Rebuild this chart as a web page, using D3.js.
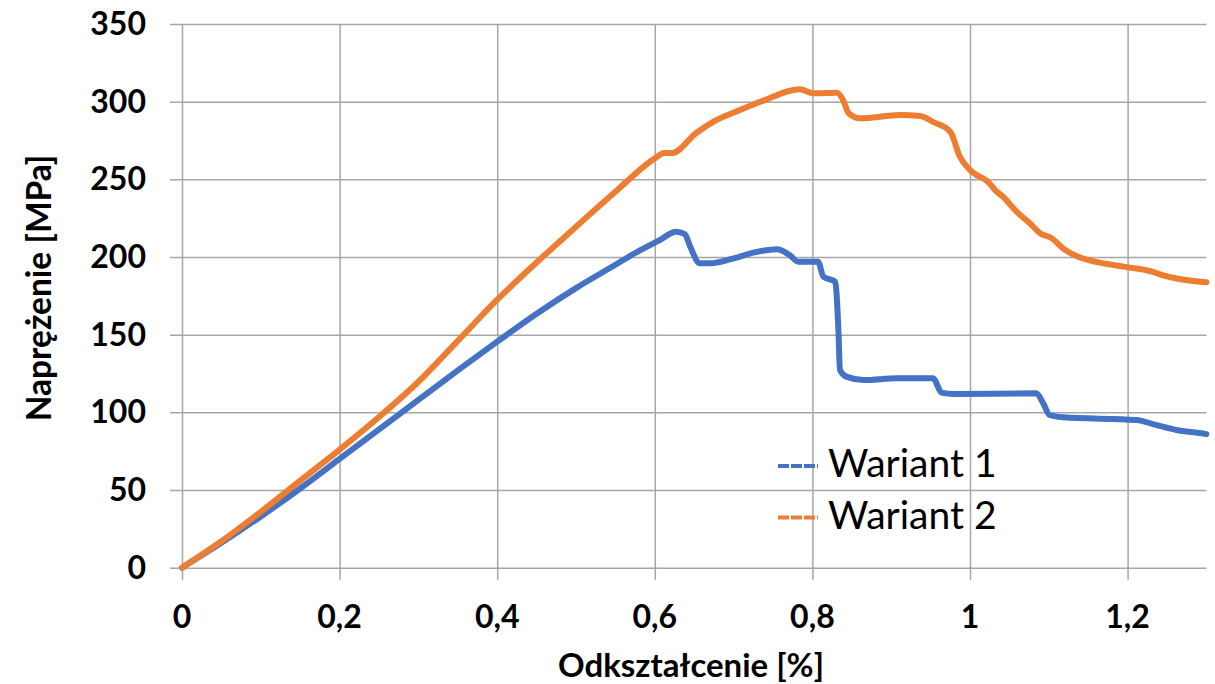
<!DOCTYPE html>
<html>
<head>
<meta charset="utf-8">
<script src="https://cdn.jsdelivr.net/npm/d3@7"></script>
<style>
  body { margin: 0; background: #fff; }
  svg { display: block; font-family: Lato, "Open Sans", sans-serif; }
</style>
</head>
<body>
<div id="chart"></div>
<script>
// Wariant 1 (blue)
const strain1 = [0, 0.05, 0.1, 0.15, 0.2, 0.25, 0.3, 0.35, 0.4, 0.45, 0.5, 0.55, 0.58, 0.605, 0.627, 0.638,
    0.645, 0.657, 0.670, 0.699, 0.725, 0.755, 0.771, 0.782, 0.807, 0.814, 0.829, 0.833, 0.835, 0.843,
    0.865, 0.907, 0.953, 0.964, 0.979, 1.084, 1.093, 1.101, 1.118, 1.211, 1.236, 1.262, 1.294, 1.3];
const stress1 = [0, 16, 33, 51, 70, 89, 108, 127, 145.5, 163.5, 180, 195, 204, 210.5, 216.3, 214.8,
    206.6, 196, 196, 199, 202.8, 205, 201.3, 197, 197, 187.3, 184.1, 153, 127.3, 123,
    120.8, 121.9, 121.9, 112.7, 111.8, 112.3, 105.8, 98.3, 96.8, 95.1, 91.9, 88.6, 86.5, 86];

// Wariant 2 (orange)
const strain2 = [0, 0.05, 0.1, 0.15, 0.2, 0.25, 0.3, 0.35, 0.4, 0.45, 0.5, 0.55, 0.6, 0.612, 0.622,
    0.653, 0.674, 0.708, 0.742, 0.767, 0.784, 0.801, 0.831, 0.839, 0.846, 0.860, 0.911, 0.937, 0.953,
    0.975, 0.987, 1.0, 1.025, 1.032, 1.042, 1.059, 1.076, 1.089, 1.104, 1.118, 1.135, 1.195, 1.231,
    1.244, 1.293, 1.3];
const stress2 = [0, 17, 36, 56, 76, 97, 119.7, 146, 172.5, 196.5, 219.5, 242, 263.5, 267, 267,
    280, 287, 294.6, 301.5, 306.4, 308, 305.4, 305.8, 301, 292.5, 289.3, 291.4, 290.8, 287,
    280.7, 264.7, 256, 247.4, 243, 238.8, 229.2, 221.7, 215.3, 212, 205.6, 200.6, 193.8, 190.6,
    188.4, 184.1, 183.8];

const seriesNames = ["Wariant 1", "Wariant 2"];
const xTicks = [0, 0.2, 0.4, 0.6, 0.8, 1, 1.2];
const yTicks = [0, 50, 100, 150, 200, 250, 300, 350];
const xTitle = "Odkształcenie [%]";
const yTitle = "Naprężenie [MPa]";

const width = 1215;
const height = 684;
const colors = ["#4472c4", "#ed7d31"];
const gridColor = "#a6a6a6";

const xScale = d3.scaleLinear().domain([0, 1.3]).range([182, 1206.4]);
const yScale = d3.scaleLinear().domain([0, 350]).range([567.7, 24]);

const svg = d3.select("#chart")
    .append("svg")
    .attr("width", width)
    .attr("height", height);

// Horizontal gridlines (with outer tick on the left)
const yAxis = d3.axisLeft(yScale)
    .tickValues(yTicks)
    .tickSize(-(xScale(1.3) - xScale(0)))
    .tickFormat("");
svg.append("g")
    .attr("transform", `translate(${xScale(0)},0)`)
    .call(yAxis)
    .call(g => g.select(".domain").remove())
    .call(g => g.selectAll(".tick line")
        .attr("x1", -12)
        .attr("stroke", gridColor)
        .attr("stroke-width", 1.5));

// Vertical gridlines (with outer tick below)
const xAxis = d3.axisBottom(xScale)
    .tickValues(xTicks)
    .tickSize(-(yScale(0) - yScale(350)))
    .tickFormat("");
svg.append("g")
    .attr("transform", `translate(0,${yScale(0)})`)
    .call(xAxis)
    .call(g => g.select(".domain").remove())
    .call(g => g.selectAll(".tick line")
        .attr("y1", 12)
        .attr("stroke", gridColor)
        .attr("stroke-width", 1.5));

// Tick labels
svg.append("g")
    .selectAll("text")
    .data(yTicks)
    .enter()
    .append("text")
    .attr("x", 146)
    .attr("y", d => yScale(d) + 11)
    .attr("text-anchor", "end")
    .attr("font-size", 32)
    .attr("font-weight", "bold")
    .text(d => d);

svg.append("g")
    .selectAll("text")
    .data(xTicks)
    .enter()
    .append("text")
    .attr("x", d => xScale(d))
    .attr("y", 628)
    .attr("text-anchor", "middle")
    .attr("font-size", 32)
    .attr("font-weight", "bold")
    .text(d => String(d).replace(".", ","));

// Axis titles
svg.append("text")
    .attr("x", 691)
    .attr("y", 677)
    .attr("text-anchor", "middle")
    .attr("font-size", 33)
    .attr("font-weight", "bold")
    .text(xTitle);

svg.append("text")
    .attr("transform", "translate(51,288) rotate(-90)")
    .attr("text-anchor", "middle")
    .attr("font-size", 33.5)
    .attr("font-weight", "bold")
    .text(yTitle);

// Data lines
const line = d3.line()
    .curve(d3.curveMonotoneX)
    .x(d => xScale(d[0]))
    .y(d => yScale(d[1]));

const series = [
    d3.zip(strain1, stress1),
    d3.zip(strain2, stress2)
];

svg.append("g")
    .selectAll("path")
    .data(series)
    .enter()
    .append("path")
    .attr("d", line)
    .attr("fill", "none")
    .attr("stroke", (d, i) => colors[i])
    .attr("stroke-width", 6)
    .attr("stroke-linejoin", "round")
    .attr("stroke-linecap", "round");

// Legend
const legend = svg.append("g")
    .selectAll("g")
    .data(seriesNames)
    .enter()
    .append("g")
    .attr("transform", (d, i) => `translate(778,${466 + i * 51.5})`);

legend.append("line")
    .attr("x1", 0)
    .attr("x2", 40)
    .attr("stroke", (d, i) => colors[i])
    .attr("stroke-width", 4)
    .attr("stroke-dasharray", "11,2");

legend.append("text")
    .attr("x", 50)
    .attr("y", 11)
    .attr("font-size", 39)
    .text(d => d);
</script>
</body>
</html>
